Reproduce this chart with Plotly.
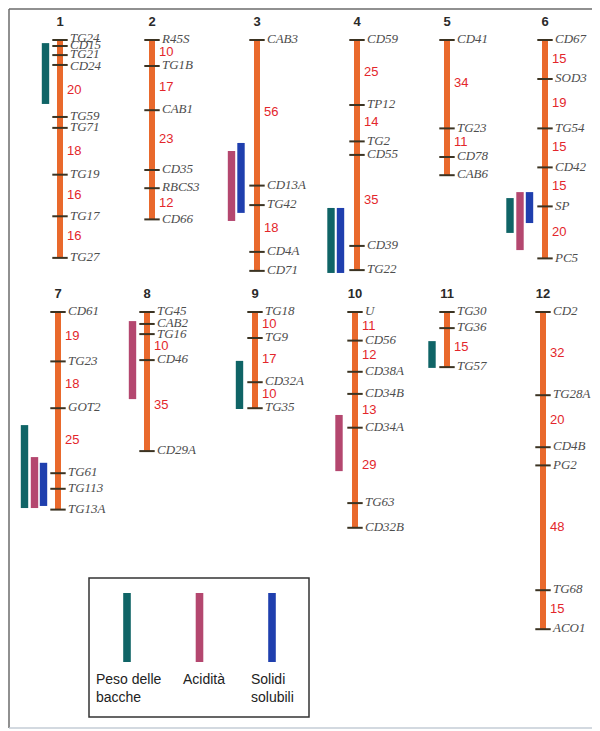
import plotly.graph_objects as go

# ---------------- DATA ----------------
# Marker positions (cM from top of each linkage group) and names
chrom_ids = ["1", "2", "3", "4", "5", "6", "7", "8", "9", "10", "11", "12"]
chrom_row = [1, 1, 1, 1, 1, 1, 2, 2, 2, 2, 2, 2]

markers = {
    "1": ["TG24", "CD15", "TG21", "CD24", "TG59", "TG71", "TG19", "TG17", "TG27"],
    "2": ["R45S", "TG1B", "CAB1", "CD35", "RBCS3", "CD66"],
    "3": ["CAB3", "CD13A", "TG42", "CD4A", "CD71"],
    "4": ["CD59", "TP12", "TG2", "CD55", "CD39", "TG22"],
    "5": ["CD41", "TG23", "CD78", "CAB6"],
    "6": ["CD67", "SOD3", "TG54", "CD42", "SP", "PC5"],
    "7": ["CD61", "TG23", "GOT2", "TG61", "TG113", "TG13A"],
    "8": ["TG45", "CAB2", "TG16", "CD46", "CD29A"],
    "9": ["TG18", "TG9", "CD32A", "TG35"],
    "10": ["U", "CD56", "CD38A", "CD34B", "CD34A", "TG63", "CD32B"],
    "11": ["TG30", "TG36", "TG57"],
    "12": ["CD2", "TG28A", "CD4B", "PG2", "TG68", "ACO1"],
}
positions = {
    "1": [0, 2.3, 5.8, 9.6, 29.6, 33.8, 51.8, 67.8, 83.8],
    "2": [0, 10, 27, 50, 57, 69],
    "3": [0, 56, 63.5, 81.5, 88.8],
    "4": [0, 25, 39, 44.2, 79.2, 88.5],
    "5": [0, 34, 45, 52],
    "6": [0, 15, 34, 49, 64, 84],
    "7": [0, 19, 37, 62, 68, 76],
    "8": [0, 4.6, 8.5, 18.5, 53.5],
    "9": [0, 10, 27, 37],
    "10": [0, 11, 23, 31.5, 44.5, 73.5, 83],
    "11": [0, 6.2, 21.2],
    "12": [0, 32, 52, 59, 107, 122],
}
# labelled intervals: (index of upper marker, distance label)
intervals = {
    "1": [(3, "20"), (5, "18"), (6, "16"), (7, "16")],
    "2": [(0, "10"), (1, "17"), (2, "23"), (4, "12")],
    "3": [(0, "56"), (2, "18")],
    "4": [(0, "25"), (1, "14"), (3, "35")],
    "5": [(0, "34"), (1, "11")],
    "6": [(0, "15"), (1, "19"), (2, "15"), (3, "15"), (4, "20")],
    "7": [(0, "19"), (1, "18"), (2, "25")],
    "8": [(2, "10"), (3, "35")],
    "9": [(0, "10"), (1, "17"), (2, "10")],
    "10": [(0, "11"), (1, "12"), (3, "13"), (4, "29")],
    "11": [(1, "15")],
    "12": [(0, "32"), (1, "20"), (3, "48"), (4, "15")],
}

# QTL intervals: (chromosome, trait, start cM, end cM)
trait_names = ["Peso delle<br>bacche", "Acidità", "Solidi<br>solubili"]
qtl_chrom = ["1", "3", "3", "4", "4", "6", "6", "6", "7", "7", "7", "8", "9", "10", "11"]
qtl_trait = [0, 1, 2, 0, 2, 0, 1, 2, 0, 1, 2, 1, 0, 1, 0]
qtl_start = [1.2, 42.7, 39.6, 64.6, 64.6, 60.8, 58.5, 58.5, 43.5, 55.8, 58.0, 3.5, 18.8, 39.6, 11.2]
qtl_end = [24.6, 69.6, 66.5, 89.6, 89.6, 74.2, 80.8, 70.4, 75.4, 75.4, 74.6, 33.5, 37.3, 61.2, 21.5]

# ---------------- LAYOUT / STYLE ----------------
PAGE_W, PAGE_H = 600, 731
OFF = 8                              # default page body margin
W, H = PAGE_W - OFF, PAGE_H - OFF
PX_PER_CM = 2.6
ROW_TOP = {1: 40, 2: 312}           # page pixel of 0 cM for each row
chrom_x = {"1": 60, "2": 152, "3": 257, "4": 357, "5": 447, "6": 545,
           "7": 58, "8": 147, "9": 255, "10": 355, "11": 447, "12": 543}
# x centre of each QTL bar (placed next to its chromosome)
qtl_x = [45.5, 231.5, 241, 331, 340.5, 510, 520, 529.5, 24.5, 34.5, 43.5, 132.5, 239.5, 339, 432]
# small vertical nudges (pixels) for crowded marker labels
label_nudge = {("1", 0): -1.5, ("1", 3): 1.5, ("8", 1): -0.5, ("8", 2): 1.0}

trait_colors = ["#0f6466", "#b4476f", "#1f3fae"]
BAR_COLOR = "#e9692c"
TICK_COLOR = "#3b3322"
NUM_COLOR = "#e3262b"
LABEL_COLOR = "#4d4d4d"

fig = go.Figure()

def yref_for(row):
    return "y" if row == 1 else "y2"

for cid, row in zip(chrom_ids, chrom_row):
    x0 = chrom_x[cid]
    pos = positions[cid]
    ya = yref_for(row)
    # chromosome bar
    fig.add_trace(go.Scatter(x=[x0, x0], y=[pos[0], pos[-1]], mode="lines",
                             line=dict(color=BAR_COLOR, width=6), yaxis=ya,
                             hoverinfo="skip", showlegend=False))
    # marker ticks
    fig.add_trace(go.Scatter(x=[x0] * len(pos), y=pos, mode="markers",
                             marker=dict(symbol="line-ew", size=11,
                                         line=dict(color=TICK_COLOR, width=2)),
                             yaxis=ya, hoverinfo="skip", showlegend=False))
    # marker names
    ylab = [p + label_nudge.get((cid, i), 0) / PX_PER_CM for i, p in enumerate(pos)]
    fig.add_trace(go.Scatter(x=[x0 + 10] * len(pos), y=ylab, mode="text",
                             text=markers[cid], textposition="middle right",
                             textfont=dict(family="Liberation Serif", size=13,
                                           color=LABEL_COLOR, style="italic"),
                             yaxis=ya, hoverinfo="skip", showlegend=False))
    # distance numbers
    iv = intervals[cid]
    ymid = [(pos[i] + pos[i + 1]) / 2 for i, _ in iv]
    fig.add_trace(go.Scatter(x=[x0 + 7] * len(iv), y=ymid, mode="text",
                             text=[t for _, t in iv], textposition="middle right",
                             textfont=dict(family="Liberation Sans", size=13,
                                           color=NUM_COLOR),
                             yaxis=ya, hoverinfo="skip", showlegend=False))
    # chromosome number
    fig.add_trace(go.Scatter(x=[x0], y=[pos[0] - 6.7], mode="text",
                             text=["<b>%s</b>" % cid], textposition="middle center",
                             textfont=dict(family="Liberation Sans", size=13,
                                           color="#2a2a2a"),
                             yaxis=ya, hoverinfo="skip", showlegend=False))

shapes = []
# QTL bars
for c, t, s, e, xc in zip(qtl_chrom, qtl_trait, qtl_start, qtl_end, qtl_x):
    row = chrom_row[chrom_ids.index(c)]
    shapes.append(dict(type="rect", xref="x", yref=yref_for(row),
                       x0=xc - 3.7, x1=xc + 3.7, y0=s, y1=e,
                       fillcolor=trait_colors[t], line=dict(width=0), layer="above"))

# frame lines (page pixel coordinates on y3)
shapes += [
    dict(type="line", xref="x", yref="y3", x0=9, x1=600, y0=9, y1=9,
         line=dict(color="#6b6b6b", width=1.5)),
    dict(type="line", xref="x", yref="y3", x0=9, x1=9, y0=9, y1=728,
         line=dict(color="#6b6b6b", width=1.5)),
    dict(type="line", xref="x", yref="y3", x0=9, x1=600, y0=728, y1=728,
         line=dict(color="#c4ccd6", width=1.5)),
]
# legend box
shapes.append(dict(type="rect", xref="x", yref="y3", x0=89, x1=309, y0=578, y1=717,
                   line=dict(color="#333333", width=1.5), fillcolor="rgba(0,0,0,0)"))
legend_x = [127, 199.5, 272]
for lx, col in zip(legend_x, trait_colors):
    shapes.append(dict(type="rect", xref="x", yref="y3", x0=lx - 3.8, x1=lx + 3.8,
                       y0=593, y1=662, fillcolor=col, line=dict(width=0)))

annotations = []
legend_text_x = [94, 181, 249]
for tx, name in zip(legend_text_x, trait_names):
    annotations.append(dict(x=tx, y=669, xref="x", yref="y3", text=name,
                            showarrow=False, xanchor="left", yanchor="top",
                            align="left",
                            font=dict(family="Liberation Sans", size=14, color="#222222")))

fig.update_layout(
    width=W, height=H,
    margin=dict(l=0, r=0, t=0, b=0),
    paper_bgcolor="white", plot_bgcolor="white",
    showlegend=False,
    xaxis=dict(range=[OFF, PAGE_W], visible=False, fixedrange=True),
    yaxis=dict(range=[(PAGE_H - ROW_TOP[1]) / PX_PER_CM, (OFF - ROW_TOP[1]) / PX_PER_CM],
               visible=False, fixedrange=True),
    yaxis2=dict(range=[(PAGE_H - ROW_TOP[2]) / PX_PER_CM, (OFF - ROW_TOP[2]) / PX_PER_CM],
                overlaying="y", visible=False, fixedrange=True),
    yaxis3=dict(range=[PAGE_H, OFF], overlaying="y", visible=False, fixedrange=True),
    shapes=shapes,
    annotations=annotations,
)

fig.write_html("out.html")
